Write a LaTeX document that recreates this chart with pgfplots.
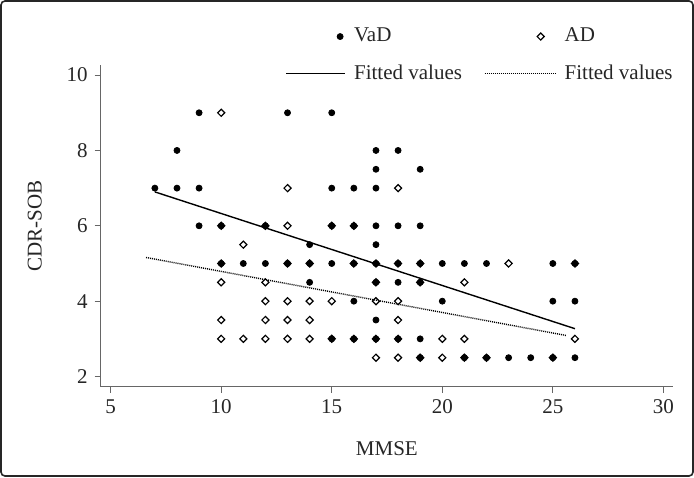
\documentclass[border=0pt]{standalone}
\usepackage{fontspec}
\setmainfont{Liberation Serif}
\usepackage{pgfplots}
\pgfplotsset{compat=1.18}
\begin{document}
\begin{tikzpicture}
\useasboundingbox (0,0) rectangle (347pt,238.5pt);
\draw[black!85, line width=0.8pt, rounded corners=2pt] (0.5pt,0.5pt) rectangle (346.5pt,238pt);
\begin{axis}[
  at={(50.35pt,45.15pt)}, anchor=south west,
  scale only axis, width=286.2pt, height=160.9pt,
  xmin=4.55, xmax=30.44, ymin=1.73, ymax=10.27,
  axis x line*=bottom, axis y line*=left,
  axis line style={black!60, line width=0.6pt},
  xtick={5,10,15,20,25,30}, ytick={2,4,6,8,10},
  tick align=outside, major tick length=3pt,
  tick style={black!60, line width=0.5pt},
  /pgf/number format/assume math mode=true,
  tick label style={font=\fontsize{10.5}{12}\selectfont, text=black!85},
  xlabel={MMSE}, ylabel={CDR-SOB},
  label style={font=\fontsize{10.5}{12}\selectfont, text=black!85},
  xlabel style={at={(axis description cs:0.5,-0.193)}, anchor=center},
  ylabel style={at={(axis description cs:-0.115,0.5)}, anchor=center, rotate=0},
  clip=false,
  legend columns=2, legend cell align=left,
  legend style={at={(axis description cs:0.322,1.128)}, anchor=north west, draw=none, fill=none,
    font=\fontsize{10.5}{12}\selectfont, text=black!85, inner sep=0pt, row sep=6pt,
    /tikz/every even column/.append style={column sep=9pt}},
]
\addplot[only marks, mark=*, mark size=1.5pt, black,
  legend image code/.code={\path[draw=none] (0pt,0pt) -- (32pt,0pt); \draw plot coordinates {(27pt,0pt)};}]
  coordinates {
  (9,9) (13,9) (15,9)
  (8,8) (17,8) (18,8)
  (17,7.5) (19,7.5)
  (7,7) (8,7) (9,7) (15,7) (16,7) (17,7)
  (9,6) (10,6) (12,6) (15,6) (16,6) (17,6) (18,6) (19,6)
  (14,5.5) (17,5.5)
  (10,5) (11,5) (12,5) (13,5) (14,5) (15,5) (16,5) (17,5) (18,5) (19,5) (20,5) (21,5) (22,5) (25,5) (26,5)
  (14,4.5) (17,4.5) (18,4.5) (19,4.5)
  (16,4) (20,4) (25,4) (26,4)
  (17,3.5)
  (15,3) (16,3) (17,3) (18,3) (19,3)
  (19,2.5) (21,2.5) (22,2.5) (23,2.5) (24,2.5) (25,2.5) (26,2.5)
  };
\addlegendentry{VaD}
\addplot[only marks, mark=square, mark size=1.25pt, black, line width=0.6pt, mark options={rotate=45},
  legend image code/.code={\path[draw=none] (0pt,0pt) -- (38pt,0pt); \draw plot coordinates {(28pt,0pt)};}]
  coordinates {
  (10,9)
  (13,7) (18,7)
  (10,6) (12,6) (13,6) (15,6) (16,6)
  (11,5.5)
  (10,5) (13,5) (14,5) (16,5) (17,5) (18,5) (19,5) (23,5) (26,5)
  (10,4.5) (12,4.5) (17,4.5) (19,4.5) (21,4.5)
  (12,4) (13,4) (14,4) (15,4) (17,4) (18,4)
  (10,3.5) (12,3.5) (13,3.5) (14,3.5) (18,3.5)
  (10,3) (11,3) (12,3) (13,3) (14,3) (15,3) (16,3) (17,3) (18,3) (20,3) (21,3) (26,3)
  (17,2.5) (18,2.5) (19,2.5) (20,2.5) (21,2.5) (22,2.5) (25,2.5)
  };
\addlegendentry{AD}
\addplot[black, line width=0.7pt, no marks,
  legend image code/.code={\draw (0pt,0pt) -- (29.5pt,0pt); \path[draw=none] (0pt,0pt) -- (32pt,0pt);}]
  coordinates {(7,6.90) (26,3.27)};
\addlegendentry{Fitted values}
\addplot[black, line width=0.7pt, no marks, dash pattern=on 0.5pt off 0.5pt,
  legend image code/.code={\draw (0pt,0pt) -- (35.5pt,0pt); \path[draw=none] (0pt,0pt) -- (38pt,0pt);}]
  coordinates {(6.6,5.16) (25.6,3.09)};
\addlegendentry{Fitted values}
\end{axis}
\end{tikzpicture}
\end{document}
